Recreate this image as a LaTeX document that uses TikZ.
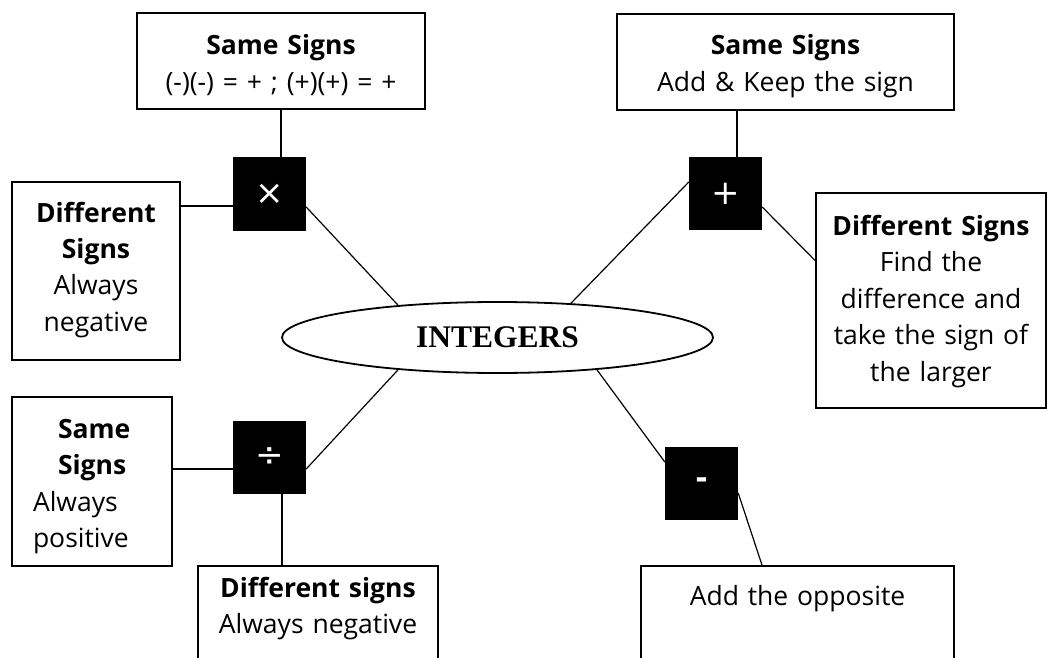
\documentclass[tikz,border=0pt]{standalone}
\usepackage{fontspec}
\setmainfont{Open Sans}
\newfontfamily\titlefont{Liberation Serif}
\newfontfamily\symfont{DejaVu Sans}
\usetikzlibrary{shapes.geometric, positioning}

\begin{document}
\begin{tikzpicture}[x=1pt, y=-1pt,
    box/.style={draw, line width=1.8pt, inner xsep=0pt, inner ysep=0pt, anchor=base, align=center, font=\fontsize{26.5}{36.5}\selectfont},
    opbox/.style={fill=black, text=white, minimum size=73pt, inner sep=0pt, font=\symfont\fontsize{34}{34}\selectfont},
    link/.style={line width=1.2pt}]
    \useasboundingbox (0,0) rectangle (1047,658);
    \clip (0,0) rectangle (1047,658);
    \fill[white] (0,0) rectangle (1047,658);

    % centre
    \node[draw, ellipse, line width=1.8pt, minimum width=431pt, minimum height=71pt, inner sep=0pt, font=\titlefont\bfseries\fontsize{31.5}{31.5}\selectfont] (int) at (497.5,337.5) {INTEGERS};

    % operations
    \node[opbox] (mulop) at (269.5,194) {×};
    \node[opbox] (addop) at (725.5,193.5) {+};
    \node[opbox] (divop) at (269.5,457.5) {÷};
    \node[opbox, font=\symfont\bfseries\fontsize{30}{30}\selectfont] (subop) at (701.5,483.5) {\raisebox{-4pt}{-}};

    % rules
    \node[box, text width=288pt, text height=42pt, text depth=54pt] (samemul) at (281,55) {\textbf{Same Signs}\\(-)(-) = + ; (+)(+) = +};
    \node[box, text width=337pt, text height=41pt, text depth=55pt] (sameadd) at (785.5,55) {\textbf{Same Signs}\\Add \& Keep the sign};
    \node[box, text width=168pt, text height=40pt, text depth=138pt] (diffmul) at (96,222) {\textbf{Different}\\\textbf{Signs}\\Always\\negative};
    \node[box, text width=230pt, text height=42pt, text depth=173pt] (diffadd) at (931,235) {\textbf{Different Signs}\\Find the\\difference and\\take the sign of\\the larger};
    \node[box, align=left, inner xsep=21pt, text width=118pt, text height=41pt, text depth=128pt] (samediv) at (92,438) {\hspace*{25pt}\textbf{Same}\\\hspace*{25pt}\textbf{Signs}\\Always\\positive};
    \node[box, text width=240pt, text height=31pt, text depth=120pt] (diffdiv) at (318,597) {\textbf{Different signs}\\Always negative};
    \node[box, text width=313pt, text height=39pt, text depth=110pt] (subbox) at (797.5,605) {Add the opposite};

    % links
    \draw[link] (samemul.south) -- (samemul.south |- mulop.north);
    \draw[link] ([yshift=-12pt]mulop.west) -- ([yshift=-12pt]mulop.west -| diffmul.east);
    \draw[link] ([yshift=-13pt]mulop.east) -- (int.162);
    \draw[link] ([xshift=11.5pt]addop.north) -- ([xshift=11.5pt]addop.north |- sameadd.south);
    \draw[link] ([yshift=11.5pt]addop.west) -- (int.25);
    \draw[link] ([yshift=-13.5pt]addop.east) -- ([yshift=40pt]diffadd.west);
    \draw[link] ([yshift=-11.5pt]divop.east) -- (int.198);
    \draw[link] ([yshift=-11.5pt]divop.west) -- ([yshift=-11.5pt]divop.west -| samediv.east);
    \draw[link] ([xshift=12.5pt]divop.south) -- ([xshift=12.5pt]divop.south |- diffdiv.north);
    \draw[link] (int.342) -- ([yshift=21.5pt]subop.west);
    \draw[link] ([yshift=-9.5pt]subop.east) -- ([xshift=-35.5pt]subbox.north);
\end{tikzpicture}
\end{document}
